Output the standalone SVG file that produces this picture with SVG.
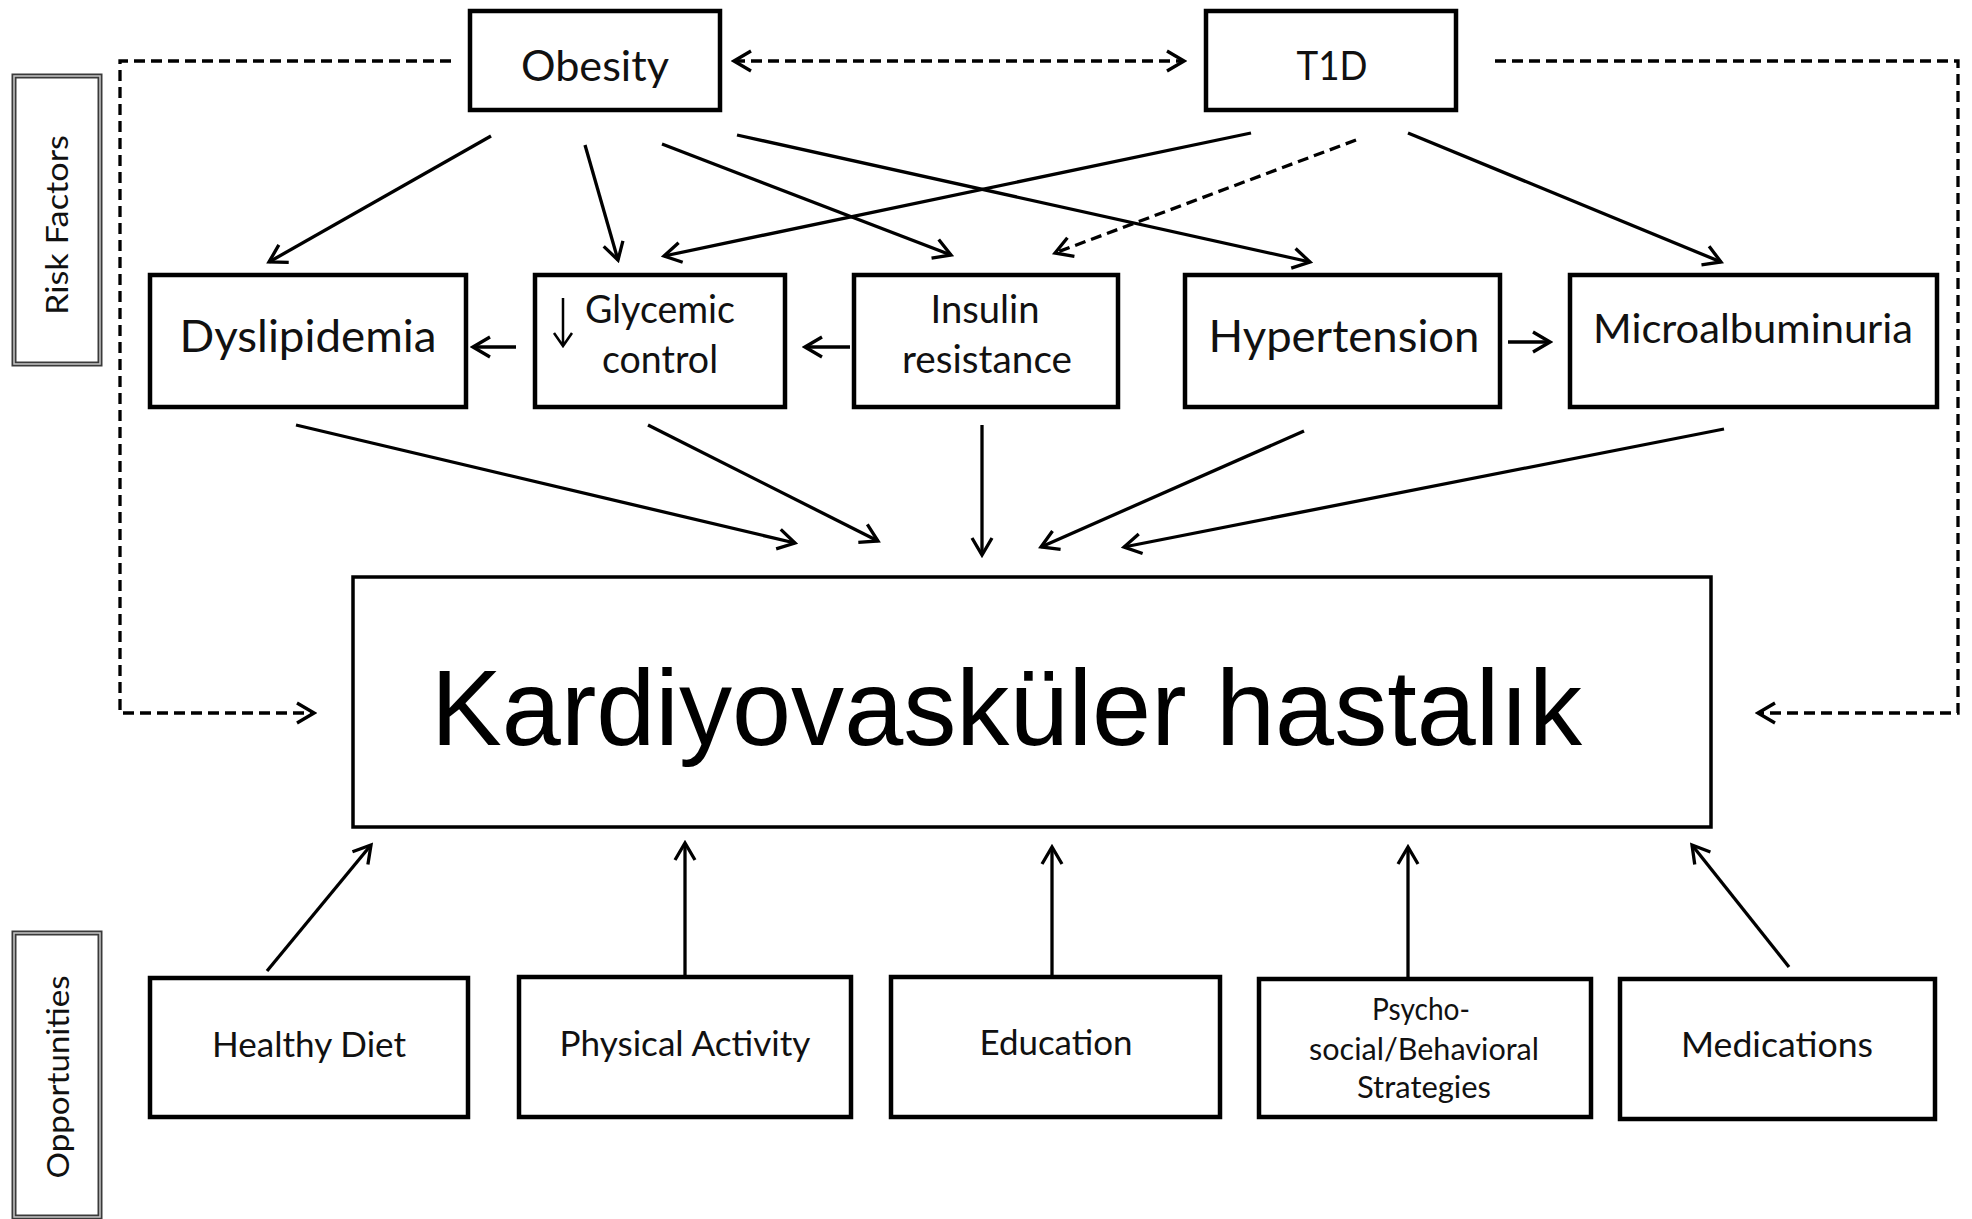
<svg xmlns="http://www.w3.org/2000/svg" width="1972" height="1219" viewBox="0 0 1972 1219">
<style>
.box{fill:#fff;stroke:#000;stroke-width:4.5}
.main{fill:#fff;stroke:#000;stroke-width:3.5}
.lbl{fill:#fff;stroke:#3a3a3a;stroke-width:5}
.lbl2{fill:none;stroke:#c8c8c8;stroke-width:1.5}
.t{font-family:Lato,"Open Sans",sans-serif;fill:#111;text-anchor:middle}
.c{fill:none;stroke:#000;stroke-width:3.3}
.d{fill:none;stroke:#000;stroke-width:3.3;stroke-dasharray:11 6}
</style>
<defs>
<marker id="ah" markerUnits="userSpaceOnUse" markerWidth="26" markerHeight="26" viewBox="0 0 26 26" refX="23" refY="13" orient="auto-start-reverse">
<path d="M6,3 L23,13 L6,23" fill="none" stroke="#000" stroke-width="3.3" stroke-dasharray="none"/>
</marker>
</defs>
<rect width="1972" height="1219" fill="#fff"/>

<g id="connectors">
<path class="d" d="M451,61 H120 V713 H314" marker-end="url(#ah)"/>
<path class="d" d="M734,61 H1184" marker-start="url(#ah)" marker-end="url(#ah)"/>
<path class="d" d="M1495,61 H1958 V713 H1758" marker-end="url(#ah)"/>
<path class="c" d="M491,136 L269,262" marker-end="url(#ah)"/>
<path class="c" d="M585,145 L618,260" marker-end="url(#ah)"/>
<path class="c" d="M662,144 L951,255" marker-end="url(#ah)"/>
<path class="c" d="M737,135 L1310,262" marker-end="url(#ah)"/>
<path class="c" d="M1251,133 L664,256" marker-end="url(#ah)"/>
<path class="d" d="M1356,140 L1055,253" marker-end="url(#ah)"/>
<path class="c" d="M1408,133 L1721,262" marker-end="url(#ah)"/>
<path class="c" d="M516,347 L473,347" marker-end="url(#ah)"/>
<path class="c" d="M850,347 L805,347" marker-end="url(#ah)"/>
<path class="c" d="M1508,342 L1550,342" marker-end="url(#ah)"/>
<path class="c" d="M296,425 L795,543" marker-end="url(#ah)"/>
<path class="c" d="M648,425 L878,541" marker-end="url(#ah)"/>
<path class="c" d="M982,425 L982,555" marker-end="url(#ah)"/>
<path class="c" d="M1304,431 L1041,547" marker-end="url(#ah)"/>
<path class="c" d="M1724,429 L1124,547" marker-end="url(#ah)"/>
<path class="c" d="M267,971 L371,845" marker-end="url(#ah)"/>
<path class="c" d="M685,975 L685,843" marker-end="url(#ah)"/>
<path class="c" d="M1052,977 L1052,847" marker-end="url(#ah)"/>
<path class="c" d="M1408,979 L1408,847" marker-end="url(#ah)"/>
<path class="c" d="M1789,967 L1692,845" marker-end="url(#ah)"/>
</g>

<g id="risk-factors">
<rect class="lbl" x="14" y="76" width="86" height="288"/>
<rect class="lbl2" x="14" y="76" width="86" height="288"/>
<text class="t" font-size="31" textLength="180" lengthAdjust="spacingAndGlyphs" transform="translate(68,225) rotate(-90)">Risk Factors</text>
</g>
<g id="opportunities">
<rect class="lbl" x="14" y="933" width="86" height="284"/>
<rect class="lbl2" x="14" y="933" width="86" height="284"/>
<text class="t" font-size="31" textLength="203" lengthAdjust="spacingAndGlyphs" transform="translate(69,1077) rotate(-90)">Opportunities</text>
</g>

<g id="obesity">
<rect class="box" x="470" y="11" width="250" height="99"/>
<text class="t" x="595" y="81" font-size="42" textLength="148" lengthAdjust="spacingAndGlyphs">Obesity</text>
</g>
<g id="t1d">
<rect class="box" x="1206" y="11" width="250" height="99"/>
<text class="t" x="1332" y="80" font-size="41" textLength="71" lengthAdjust="spacingAndGlyphs">T1D</text>
</g>
<g id="dyslipidemia">
<rect class="box" x="150" y="275" width="316" height="132"/>
<text class="t" x="308" y="352" font-size="44" textLength="257" lengthAdjust="spacingAndGlyphs">Dyslipidemia</text>
</g>
<g id="glycemic">
<rect class="box" x="535" y="275" width="250" height="132"/>
<path d="M563,298 V345 M554,333 L563,346 L572,333" fill="none" stroke="#000" stroke-width="2.5"/>
<text class="t" x="660" y="323" font-size="38" textLength="150" lengthAdjust="spacingAndGlyphs">Glycemic</text>
<text class="t" x="660" y="373" font-size="38" textLength="116" lengthAdjust="spacingAndGlyphs">control</text>
</g>
<g id="insulin">
<rect class="box" x="854" y="275" width="264" height="132"/>
<text class="t" x="985" y="323" font-size="38" textLength="109" lengthAdjust="spacingAndGlyphs">Insulin</text>
<text class="t" x="987" y="373" font-size="38" textLength="170" lengthAdjust="spacingAndGlyphs">resistance</text>
</g>
<g id="hypertension">
<rect class="box" x="1185" y="275" width="315" height="132"/>
<text class="t" x="1344" y="352" font-size="44" textLength="271" lengthAdjust="spacingAndGlyphs">Hypertension</text>
</g>
<g id="microalbuminuria">
<rect class="box" x="1570" y="275" width="367" height="132"/>
<text class="t" x="1753" y="343" font-size="40" textLength="320" lengthAdjust="spacingAndGlyphs">Microalbuminuria</text>
</g>

<g id="cvd">
<rect class="main" x="353" y="577" width="1358" height="250"/>
<text x="431" y="745" font-family="'Liberation Sans',Arial,sans-serif" font-size="107" fill="#000" textLength="1151" lengthAdjust="spacingAndGlyphs">Kardiyovasküler hastalık</text>
</g>

<g id="healthy-diet">
<rect class="box" x="150" y="978" width="318" height="139"/>
<text class="t" x="309" y="1057" font-size="34" textLength="194" lengthAdjust="spacingAndGlyphs">Healthy Diet</text>
</g>
<g id="physical-activity">
<rect class="box" x="519" y="977" width="332" height="140"/>
<text class="t" x="685" y="1056" font-size="34" textLength="251" lengthAdjust="spacingAndGlyphs">Physical Activity</text>
</g>
<g id="education">
<rect class="box" x="891" y="977" width="329" height="140"/>
<text class="t" x="1056" y="1055" font-size="34" textLength="153" lengthAdjust="spacingAndGlyphs">Education</text>
</g>
<g id="psychosocial">
<rect class="box" x="1259" y="979" width="332" height="138"/>
<text class="t" x="1421" y="1020" font-size="30" textLength="98" lengthAdjust="spacingAndGlyphs">Psycho-</text>
<text class="t" x="1424" y="1060" font-size="30" textLength="230" lengthAdjust="spacingAndGlyphs">social/Behavioral</text>
<text class="t" x="1424" y="1098" font-size="30" textLength="134" lengthAdjust="spacingAndGlyphs">Strategies</text>
</g>
<g id="medications">
<rect class="box" x="1620" y="979" width="315" height="140"/>
<text class="t" x="1777" y="1057" font-size="34" textLength="192" lengthAdjust="spacingAndGlyphs">Medications</text>
</g>
</svg>
